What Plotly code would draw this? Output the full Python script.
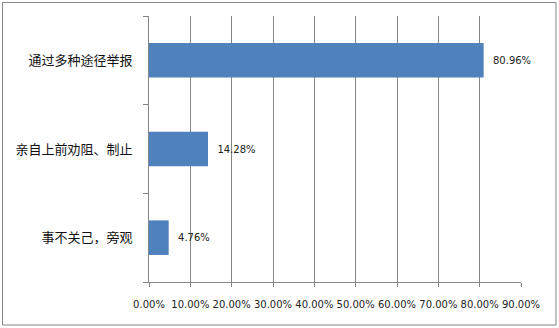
import plotly.graph_objects as go

categories = ["通过多种途径举报", "亲自上前劝阻、制止", "事不关己，旁观"]
values = [80.96, 14.28, 4.76]
x_ticks = [0, 10, 20, 30, 40, 50, 60, 70, 80, 90]

W, H = 559, 328
L, R, T, B = 149, 38, 16, 46
pw, ph = W - L - R, H - T - B

def px_x(p):
    return (p - L) / pw

def px_y(p):
    return 1 - (p - T) / ph

fig = go.Figure()
fig.add_trace(go.Bar(
    y=categories, x=values, orientation="h",
    marker=dict(color="#4F81BD", line=dict(width=0)),
    text=[f"  {v:.2f}%" for v in values],
    textposition="outside", cliponaxis=False,
    textfont=dict(family="DejaVu Sans", size=10, color="#222222"),
))
fig.update_layout(
    width=W, height=H, margin=dict(l=L, r=R, t=T, b=B),
    paper_bgcolor="white", plot_bgcolor="white",
    bargap=0.61, showlegend=False,
    xaxis=dict(range=[0, 90], tickvals=x_ticks,
               ticktext=[f"{v:.2f}%" for v in x_ticks],
               showgrid=True, gridcolor="#868686", gridwidth=1,
               showline=True, linecolor="#868686", linewidth=1,
               ticks="outside", ticklen=4, tickcolor="#868686",
               tickfont=dict(family="DejaVu Sans", size=10, color="#222222"),
               ticklabelstandoff=9,
               zeroline=False, fixedrange=True),
    yaxis=dict(categoryorder="array", categoryarray=categories[::-1],
               showline=True, linecolor="#868686", linewidth=1,
               ticks="outside", ticklen=5, tickcolor="#868686",
               tickson="boundaries", showgrid=False,
               tickfont=dict(family="Noto Sans CJK SC", size=13, color="#111111"),
               ticklabelstandoff=13, fixedrange=True),
    shapes=[dict(type="rect", xref="paper", yref="paper",
                 x0=px_x(2.5), x1=px_x(556), y0=px_y(2.5), y1=px_y(325),
                 line=dict(color="#868686", width=1), fillcolor="rgba(0,0,0,0)",
                 layer="below")],
)
fig.write_html("out.html")
